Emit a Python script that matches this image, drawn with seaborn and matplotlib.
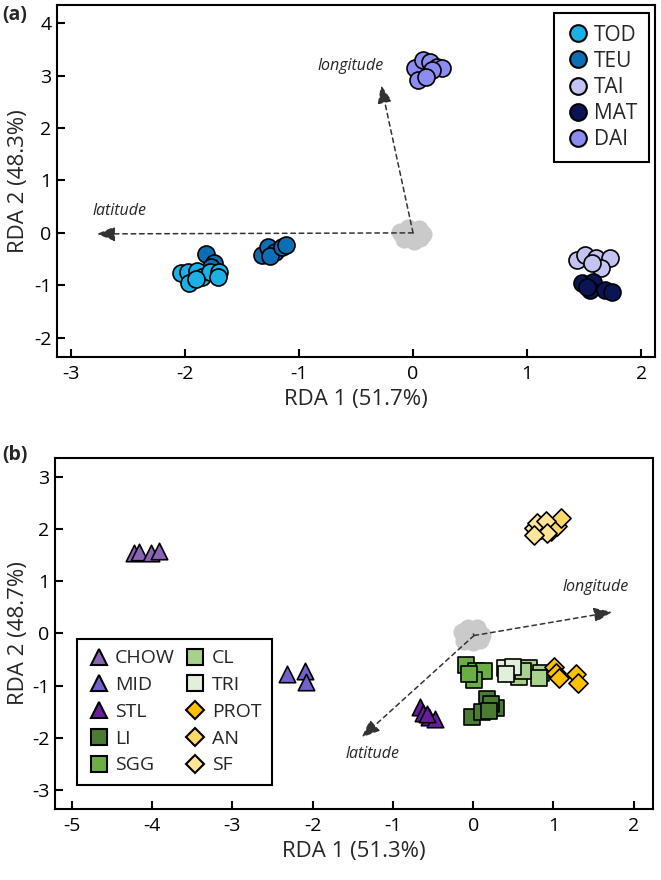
import numpy as np
import pandas as pd
import matplotlib
matplotlib.use("Agg")
import matplotlib.pyplot as plt
from matplotlib.lines import Line2D
import seaborn as sns

# ---- panel (a) data ----
a_groups = ["TOD", "TEU", "TAI", "MAT", "DAI"]
a_colors = ["#1BB1E7", "#0C6EB5", "#C4C4F2", "#0B1454", "#8C8CF2"]

TEU_x = [-1.81, -1.74, -1.77, -1.32, -1.27, -1.21, -1.25, -1.15, -1.11]
TEU_y = [-0.40, -0.58, -0.66, -0.42, -0.27, -0.36, -0.45, -0.27, -0.23]
TOD_x = [-2.03, -1.97, -1.89, -1.96, -1.85, -1.78, -1.70, -1.71, -1.90]
TOD_y = [-0.76, -0.74, -0.72, -0.95, -0.84, -0.74, -0.74, -0.84, -0.88]
TAI_x = [1.44, 1.51, 1.60, 1.73, 1.65, 1.57]
TAI_y = [-0.51, -0.42, -0.48, -0.48, -0.67, -0.57]
MAT_x = [1.48, 1.58, 1.55, 1.68, 1.74, 1.52]
MAT_y = [-0.95, -0.93, -1.09, -1.09, -1.12, -1.03]
DAI_x = [0.02, 0.09, 0.15, 0.21, 0.25, 0.17, 0.04, 0.11]
DAI_y = [3.14, 3.30, 3.26, 3.16, 3.14, 3.10, 2.91, 2.97]

a_centre_x = [-0.11, -0.04, 0.05, 0.09, -0.08, 0.01, 0.06, -0.02]
a_centre_y = [0.02, 0.09, 0.08, -0.02, -0.11, -0.15, -0.09, 0.00]

a_vec_names = ["latitude", "longitude"]
a_vec_x = [-2.77, -0.28]
a_vec_y = [-0.02, 2.82]

# ---- panel (b) data ----
b_groups = ["CHOW", "MID", "STL", "LI", "SGG", "CL", "TRI", "PROT", "AN", "SF"]
b_colors = ["#8A64B4", "#7462CC", "#6A1E9E", "#4C7C32", "#6CAE46",
            "#A9D18E", "#E2EFDA", "#FFC000", "#FFD966", "#FFE699"]
b_markers = ["^", "^", "^", "s", "s", "s", "s", "D", "D", "D"]

CHOW_x = [-4.22, -4.16, -4.01, -3.91]
CHOW_y = [1.53, 1.55, 1.53, 1.57]
MID_x = [-2.32, -2.10, -2.08]
MID_y = [-0.77, -0.71, -0.93]
STL_x = [-0.66, -0.62, -0.55, -0.48, -0.58]
STL_y = [-1.40, -1.52, -1.60, -1.64, -1.55]
LI_x = [-0.01, 0.17, 0.28, 0.11, 0.22, 0.20]
LI_y = [-1.60, -1.25, -1.43, -1.51, -1.36, -1.48]
SGG_x = [-0.09, 0.03, 0.14, 0.01, -0.05]
SGG_y = [-0.61, -0.71, -0.71, -0.90, -0.77]
CL_x = [0.57, 0.70, 0.84, 0.82, 0.62]
CL_y = [-0.84, -0.67, -0.75, -0.86, -0.71]
TRI_x = [0.39, 0.49, 0.41]
TRI_y = [-0.67, -0.65, -0.77]
PROT_x = [1.01, 1.03, 1.07, 1.28, 1.30]
PROT_y = [-0.65, -0.75, -0.86, -0.77, -0.94]
AN_x = [0.84, 0.97, 1.05, 1.09]
AN_y = [2.00, 1.96, 2.05, 2.20]
SF_x = [0.76, 0.80, 0.91, 0.92, 0.76]
SF_y = [2.02, 2.12, 2.15, 1.92, 1.88]

b_centre_x = [-0.14, -0.06, 0.05, 0.11, -0.11, 0.00, 0.08, -0.03]
b_centre_y = [0.02, 0.10, 0.10, -0.03, -0.14, -0.17, -0.13, 0.00]

b_vec_x = [-1.39, 1.73]
b_vec_y = [-1.99, 0.41]
b_vec_mid = (0.01, -0.04)

a_data = {"TOD": (TOD_x, TOD_y), "TEU": (TEU_x, TEU_y), "TAI": (TAI_x, TAI_y),
          "MAT": (MAT_x, MAT_y), "DAI": (DAI_x, DAI_y)}
b_data = {"CHOW": (CHOW_x, CHOW_y), "MID": (MID_x, MID_y), "STL": (STL_x, STL_y),
          "LI": (LI_x, LI_y), "SGG": (SGG_x, SGG_y), "CL": (CL_x, CL_y),
          "TRI": (TRI_x, TRI_y), "PROT": (PROT_x, PROT_y), "AN": (AN_x, AN_y),
          "SF": (SF_x, SF_y)}


def make_df(d):
    rows = []
    for g, (xs, ys) in d.items():
        for x, y in zip(xs, ys):
            rows.append({"group": g, "x": x, "y": y})
    return pd.DataFrame(rows)


sns.set_style("white")
plt.rcParams["font.family"] = ["Open Sans", "DejaVu Sans"]
plt.rcParams["axes.unicode_minus"] = False

fig = plt.figure(figsize=(6.61, 8.8), dpi=100)
ax_a = fig.add_axes([0.0862, 0.5943, 0.9047, 0.400])
ax_b = fig.add_axes([0.0832, 0.0807, 0.9047, 0.399])

dash = (0, (3, 2.5))
arrow_col = "#333333"
head = "-|>,head_length=1.1,head_width=0.45"

# ---- panel (a) ----
ax = ax_a
sns.scatterplot(x=a_centre_x, y=a_centre_y, color="#CACACA", s=170, linewidth=0,
                ax=ax, legend=False, zorder=1)
for vx, vy in zip(a_vec_x, a_vec_y):
    ax.annotate("", xy=(vx, vy), xytext=(0, 0),
                arrowprops=dict(arrowstyle=head, linestyle=dash, color=arrow_col,
                                lw=1.1, shrinkA=0, shrinkB=0), zorder=2)
ax.text(-2.81, 0.42, "latitude", style="italic", fontsize=11.5, va="center", ha="left")
ax.text(-0.26, 3.18, "longitude", style="italic", fontsize=11.5, va="center", ha="right")

df_a = make_df(a_data)
order_a = ["TEU", "TOD", "DAI", "TAI", "MAT"]
for g in order_a:
    sub = df_a[df_a.group == g]
    sns.scatterplot(data=sub, x="x", y="y", color=a_colors[a_groups.index(g)],
                    s=150, edgecolor="black", linewidth=1.2, ax=ax, legend=False,
                    zorder=3)

ax.set_xlim(-3.12, 2.12)
ax.set_ylim(-2.37, 4.35)
ax.set_xticks([-3, -2, -1, 0, 1, 2])
ax.set_yticks([-2, -1, 0, 1, 2, 3, 4])
ax.set_xlabel("RDA 1 (51.7%)", fontsize=16)
ax.set_ylabel("RDA 2 (48.3%)", fontsize=16)
ax.yaxis.set_label_coords(-0.047, 0.5)

handles_a = [Line2D([], [], marker="o", linestyle="", markersize=12,
                    markerfacecolor=c, markeredgecolor="black", markeredgewidth=1.5,
                    label=g) for g, c in zip(a_groups, a_colors)]
leg = ax.legend(handles=handles_a, loc="upper right", bbox_to_anchor=(0.99, 0.977),
                fontsize=15, frameon=True, fancybox=False, edgecolor="black",
                framealpha=1, handletextpad=0.2, labelspacing=0.25,
                borderpad=0.55, handlelength=1.2, borderaxespad=0)
leg.get_frame().set_linewidth(1.5)
fig.text(0.003, 0.983, "(a)", fontsize=14, fontweight="bold", va="center")

# ---- panel (b) ----
ax = ax_b
sns.scatterplot(x=b_centre_x, y=b_centre_y, color="#CACACA", s=170, linewidth=0,
                ax=ax, legend=False, zorder=1)
ax.plot([0, b_vec_mid[0]], [0, b_vec_mid[1]], color=arrow_col, lw=1.1, linestyle=dash)
for vx, vy in zip(b_vec_x, b_vec_y):
    ax.annotate("", xy=(vx, vy), xytext=b_vec_mid,
                arrowprops=dict(arrowstyle=head, linestyle=dash, color=arrow_col,
                                lw=1.1, shrinkA=0, shrinkB=0), zorder=2)
ax.text(1.52, 0.88, "longitude", style="italic", fontsize=11.5, va="center", ha="center")
ax.text(-1.25, -2.30, "latitude", style="italic", fontsize=11.5, va="center", ha="center")

df_b = make_df(b_data)
for g in b_groups:
    sub = df_b[df_b.group == g]
    i = b_groups.index(g)
    sns.scatterplot(data=sub, x="x", y="y", color=b_colors[i], marker=b_markers[i],
                    s=140 if b_markers[i] != "D" else 95, edgecolor="black",
                    linewidth=1.2, ax=ax, legend=False, zorder=3)

ax.set_xlim(-5.21, 2.24)
ax.set_ylim(-3.36, 3.36)
ax.set_xticks([-5, -4, -3, -2, -1, 0, 1, 2])
ax.set_yticks([-3, -2, -1, 0, 1, 2, 3])
ax.set_xlabel("RDA 1 (51.3%)", fontsize=16)
ax.set_ylabel("RDA 2 (48.7%)", fontsize=16)
ax.yaxis.set_label_coords(-0.043, 0.5)

handles_b = [Line2D([], [], marker=m, linestyle="", markersize=12 if m != "D" else 9.5,
                    markerfacecolor=c, markeredgecolor="black", markeredgewidth=1.5,
                    label=g) for g, c, m in zip(b_groups, b_colors, b_markers)]
leg = ax.legend(handles=handles_b, loc="lower left", bbox_to_anchor=(0.037, 0.068),
                ncol=2, fontsize=14, frameon=True, fancybox=False, edgecolor="black",
                framealpha=1, handletextpad=0.3, labelspacing=0.45,
                borderpad=0.55, handlelength=1.1, columnspacing=0.5,
                borderaxespad=0)
leg.get_frame().set_linewidth(1.5)
fig.text(0.003, 0.483, "(b)", fontsize=14, fontweight="bold", va="center")

for ax in (ax_a, ax_b):
    for sp in ax.spines.values():
        sp.set_linewidth(1.5)
        sp.set_color("black")
    ax.tick_params(axis="both", direction="in", length=6, width=1.5, labelsize=14,
                   bottom=True, left=True, top=False, right=False, colors="black")
    ax.tick_params(axis="y", pad=4)
    ax.tick_params(axis="x", pad=6)
    ax.set_facecolor("white")

fig.savefig("out.png", dpi=100, facecolor="white")
